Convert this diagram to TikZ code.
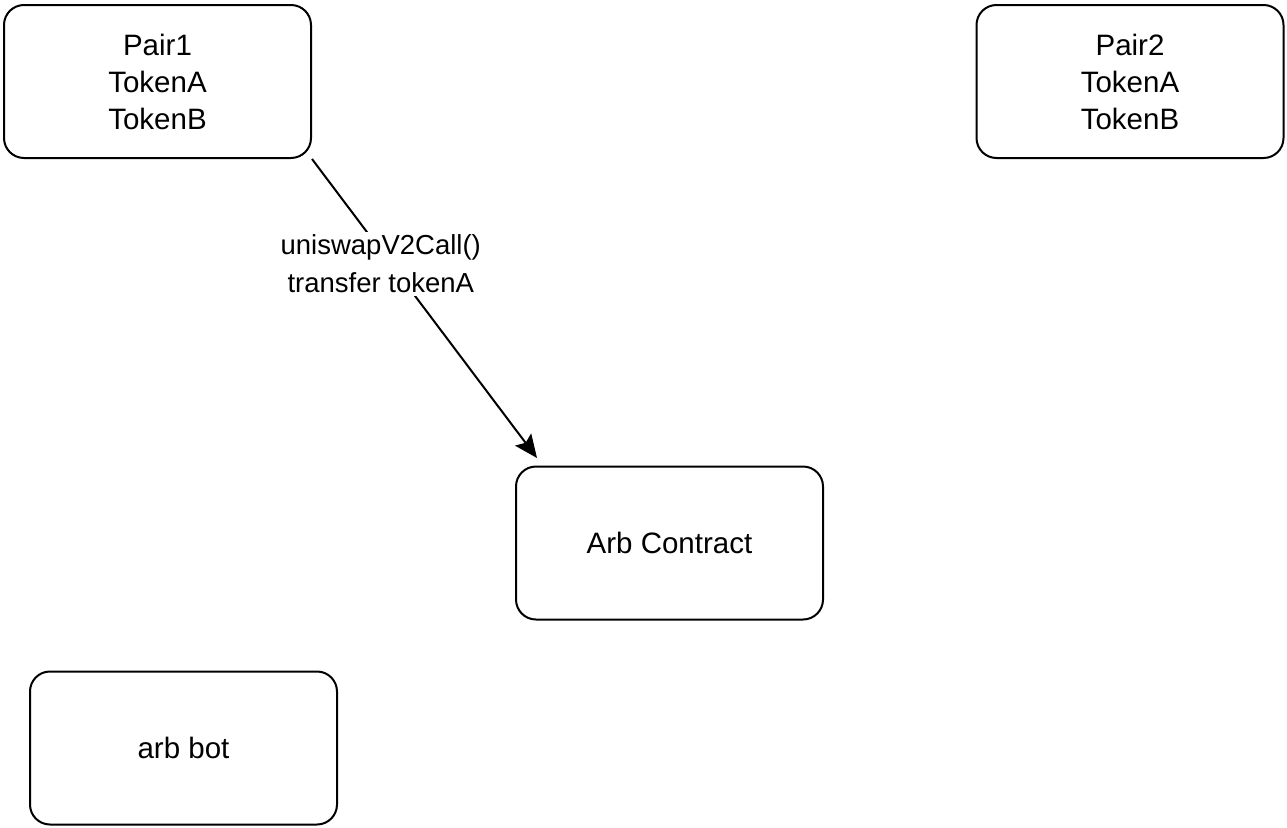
\documentclass[tikz,border=0pt]{standalone}
\usepackage{fontspec}
\setmainfont{Liberation Sans}
\usetikzlibrary{arrows.meta}
\begin{document}
\begin{tikzpicture}[x=1pt,y=-1pt,
  box/.style={draw=black, line width=2pt, rounded corners=20pt, minimum width=307pt, minimum height=153pt, align=center, inner sep=0pt, font=\fontsize{29.5}{37}\selectfont},
  conn/.style={draw=black, line width=2pt, -{Stealth[length=23pt,width=20pt,inset=4pt]}},
  lbl/.style={fill=white, align=center, inner sep=3pt, font=\fontsize{27.5}{38}\selectfont}]
\useasboundingbox (0,0) rectangle (1287,827);
\node[box] (p1) at (157.5,81.5) {Pair1\\TokenA\\TokenB};
\node[box] (p2) at (1130,81.5) {Pair2\\TokenA\\TokenB};
\node[box] (ac) at (669.5,543) {Arb Contract};
\node[box] (bot) at (183.5,748) {arb bot};
\coordinate (tip) at (537,458);
\draw[conn] (p1.south east) -- node[lbl, pos=0.35, xshift=-10pt] {uniswapV2Call()\\transfer tokenA} (tip);
\end{tikzpicture}
\end{document}
